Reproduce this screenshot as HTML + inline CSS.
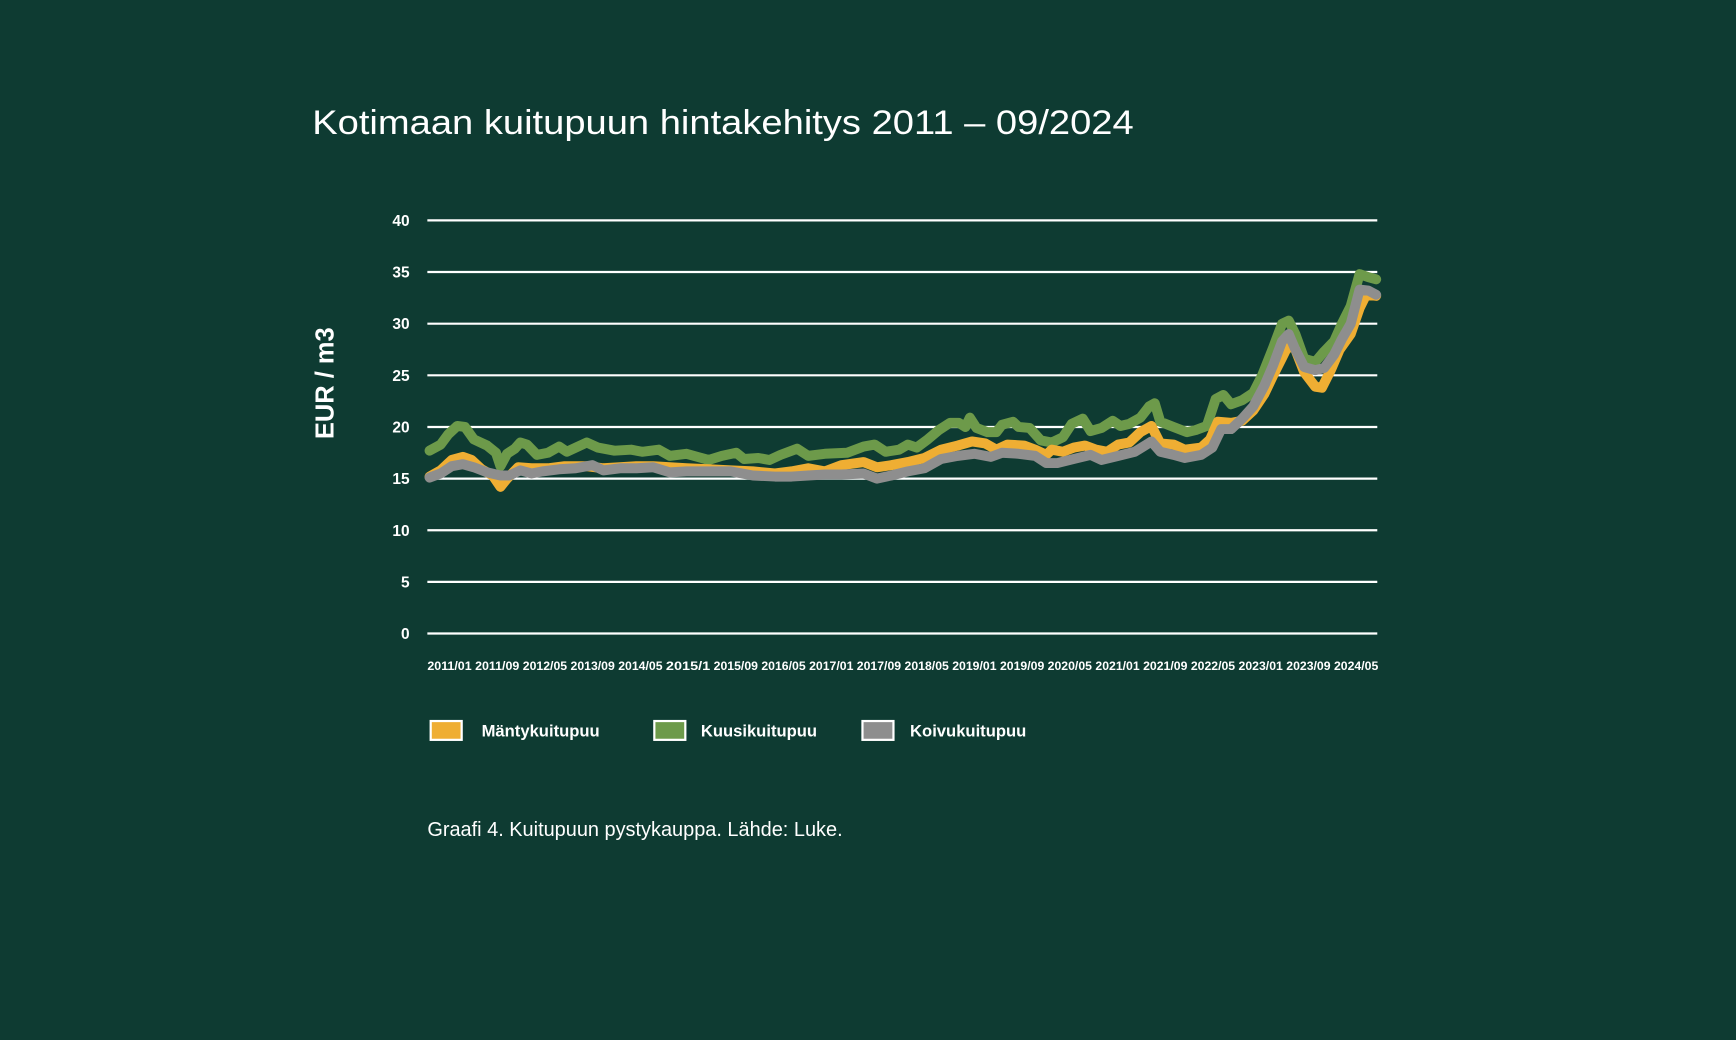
<!DOCTYPE html>
<html><head><meta charset="utf-8"><style>
html,body{margin:0;padding:0;background:#0e3b32;}
svg{display:block;font-family:"Liberation Sans",sans-serif;}
</style></head><body>
<svg id="s" width="1736" height="1040" viewBox="0 0 1568 939" preserveAspectRatio="none">
<rect width="1568" height="939" fill="#0e3b32"/>
<text x="282" y="121" fill="#fff" font-size="31" textLength="742" lengthAdjust="spacingAndGlyphs">Kotimaan kuitupuun hintakehitys 2011 – 09/2024</text>
<g id="grid" stroke="#fff" stroke-width="2"></g>
<g id="yl" fill="#fff" font-size="14" font-weight="bold" text-anchor="end"></g>
<text transform="translate(301,346) rotate(-90)" fill="#fff" font-size="23" font-weight="bold" text-anchor="middle">EUR / m3</text>
<g id="xl" fill="#fff" font-size="11" font-weight="bold"></g>
<g id="lines" fill="none" stroke-width="9" stroke-linejoin="round" stroke-linecap="round"></g>
<g font-size="15" font-weight="bold" fill="#fff">
<rect x="389" y="651" width="28" height="17" fill="#efae33" stroke="#fff" stroke-width="2"/>
<text x="435" y="665">Mäntykuitupuu</text>
<rect x="591" y="651" width="28" height="17" fill="#6d9a4a" stroke="#fff" stroke-width="2"/>
<text x="633" y="665">Kuusikuitupuu</text>
<rect x="779" y="651" width="28" height="17" fill="#8e8e8e" stroke="#fff" stroke-width="2"/>
<text x="822" y="665">Koivukuitupuu</text>
</g>
<text x="386" y="755" fill="#fff" font-size="18">Graafi 4. Kuitupuun pystykauppa. Lähde: Luke.</text>
</svg>
<script>
var NS="http://www.w3.org/2000/svg";
function el(p,t,a,txt){var e=document.createElementNS(NS,t);for(var k in a)e.setAttribute(k,a[k]);if(txt)e.textContent=txt;document.getElementById(p).appendChild(e);}
function Y(v){return 572-v*9.325;}
for(var v=0;v<=40;v+=5){el("grid","line",{x1:386,x2:1244,y1:Y(v),y2:Y(v)});el("yl","text",{x:370,y:Y(v)+5},String(v));}
var xl=["2011/01","2011/09","2012/05","2013/09","2014/05","2015/1","2015/09","2016/05","2017/01","2017/09","2018/05","2019/01","2019/09","2020/05","2021/01","2021/09","2022/05","2023/01","2023/09","2024/05"];
xl.forEach(function(s,i){el("xl","text",{x:386+i*43.1,y:605,textLength:40,lengthAdjust:"spacingAndGlyphs"},s);});
var G=[[388,17.7],[398,18.3],[405,19.3],[413,20.1],[420,20],[428,18.8],[440,18.2],[448,17.5],[452,16.2],[458,17.4],[465,17.9],[470,18.5],[476,18.3],[485,17.3],[495,17.5],[505,18.1],[512,17.6],[520,18],[530,18.5],[540,18],[555,17.7],[570,17.8],[580,17.6],[595,17.8],[605,17.2],[620,17.4],[630,17.1],[640,16.8],[652,17.2],[665,17.5],[672,16.9],[685,17],[695,16.8],[705,17.3],[720,17.9],[730,17.2],[745,17.4],[765,17.5],[780,18.1],[790,18.3],[800,17.6],[812,17.8],[820,18.3],[828,18.0],[838,18.8],[848,19.7],[858,20.4],[866,20.4],[872,20.0],[876,20.9],[882,19.9],[892,19.5],[900,19.5],[905,20.2],[915,20.5],[920,20],[930,19.9],[940,18.7],[950,18.5],[960,19],[968,20.3],[978,20.8],[985,19.6],[995,19.9],[1005,20.6],[1012,20.1],[1020,20.3],[1030,20.9],[1038,22],[1043,22.3],[1048,20.5],[1060,20],[1072,19.5],[1080,19.7],[1090,20.1],[1098,22.7],[1105,23.1],[1112,22.2],[1122,22.6],[1132,23.3],[1140,25],[1150,27.7],[1158,30],[1164,30.3],[1170,29],[1178,26.6],[1188,26.3],[1196,27.3],[1205,28.3],[1212,30],[1220,31.7],[1228,34.8],[1236,34.5],[1243,34.3]];
var O=[[388,15.2],[398,15.8],[408,16.8],[418,17.1],[426,16.8],[435,15.9],[445,15.3],[452,14.2],[458,15.0],[468,16.1],[480,16.0],[495,16.0],[510,16.2],[530,16.2],[545,16.0],[560,16.1],[575,16.2],[590,16.2],[605,16.1],[620,16.0],[640,15.9],[660,15.8],[680,15.7],[700,15.5],[715,15.7],[730,16.0],[745,15.7],[760,16.3],[780,16.6],[792,16.1],[805,16.3],[820,16.6],[835,17],[850,17.8],[865,18.2],[878,18.6],[890,18.4],[900,17.8],[910,18.3],[925,18.2],[935,17.8],[945,17.3],[950,17.8],[960,17.6],[970,18.0],[980,18.2],[990,17.8],[1000,17.6],[1010,18.3],[1020,18.5],[1030,19.5],[1040,20.1],[1048,18.4],[1060,18.3],[1070,17.8],[1085,18.0],[1093,18.8],[1100,20.5],[1112,20.4],[1122,20.6],[1132,21.6],[1142,23.2],[1150,25],[1158,26.7],[1164,28],[1170,27.5],[1178,25.3],[1188,23.9],[1194,23.8],[1202,25.5],[1210,27.5],[1220,29],[1228,31.5],[1234,32.8],[1243,32.7]];
var K=[[388,15.1],[398,15.5],[408,16.2],[418,16.4],[428,16.1],[440,15.6],[452,15.3],[460,15.3],[470,15.8],[480,15.5],[490,15.7],[505,15.9],[520,16.0],[535,16.3],[545,15.8],[560,16.0],[575,16.0],[590,16.1],[605,15.6],[620,15.7],[640,15.7],[660,15.7],[680,15.3],[700,15.2],[715,15.2],[730,15.3],[745,15.4],[760,15.4],[780,15.5],[792,15.0],[805,15.3],[820,15.7],[835,16],[850,16.9],[865,17.2],[880,17.4],[895,17.1],[905,17.5],[920,17.4],[935,17.2],[945,16.5],[955,16.5],[970,16.9],[985,17.3],[995,16.8],[1010,17.2],[1025,17.6],[1040,18.6],[1048,17.6],[1060,17.3],[1070,17.0],[1085,17.3],[1095,18],[1103,19.8],[1112,19.8],[1122,20.8],[1132,22],[1142,24],[1150,26],[1158,28.3],[1164,29],[1170,27.5],[1178,25.8],[1188,25.5],[1196,25.7],[1205,27],[1212,28.5],[1220,30],[1228,33.3],[1236,33.2],[1243,32.8]];
function P(a){return a.map(function(p,i){return (i?"L":"M")+p[0]+","+Y(p[1]).toFixed(1);}).join("");}
el("lines","path",{d:P(G),stroke:"#6d9a4a"});
el("lines","path",{d:P(O),stroke:"#efae33"});
el("lines","path",{d:P(K),stroke:"#8e8e8e"});
</script>
</body></html>
